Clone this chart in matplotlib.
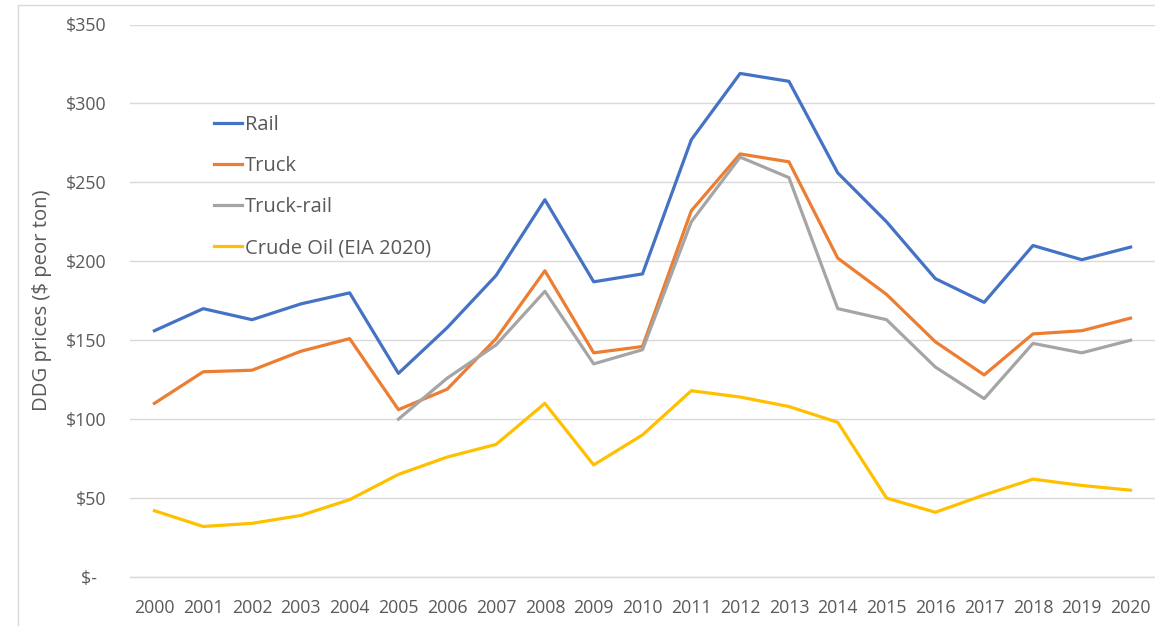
import matplotlib.pyplot as plt
from matplotlib.patches import Rectangle

years = list(range(2000, 2021))

rail = [156, 170, 163, 173, 180, 129, 158, 191, 239, 187, 192,
        277, 319, 314, 256, 225, 189, 174, 210, 201, 209]
truck = [110, 130, 131, 143, 151, 106, 119, 151, 194, 142, 146,
         232, 268, 263, 202, 179, 149, 128, 154, 156, 164]
truck_rail_years = list(range(2005, 2021))
truck_rail = [100, 126, 147, 181, 135, 144, 225, 266, 253, 170,
              163, 133, 113, 148, 142, 150]
crude = [42, 32, 34, 39, 49, 65, 76, 84, 110, 71, 90,
         118, 114, 108, 98, 50, 41, 52, 62, 58, 55]

labels = ['Rail', 'Truck', 'Truck-rail', 'Crude Oil (EIA 2020)']
colors = ['#4472C4', '#ED7D31', '#A5A5A5', '#FFC000']
yticks = [0, 50, 100, 150, 200, 250, 300, 350]

txt = '#595959'
plt.rcParams['font.family'] = ['Open Sans', 'DejaVu Sans']

W, H = 1155, 626
fig = plt.figure(figsize=(W / 100, H / 100), dpi=100)
ax = fig.add_axes([130 / W, 1 - 577 / H, (1155 - 130) / W, (577 - 24.5) / H])

# chart border
fig.patches.append(Rectangle((18 / W, -0.1), 1.2, 1 - 5 / H + 0.1,
                             transform=fig.transFigure, fill=False,
                             edgecolor='#D9D9D9', lw=1))

ax.plot(years, rail, color=colors[0], lw=2.3, label=labels[0])
ax.plot(years, truck, color=colors[1], lw=2.3, label=labels[1])
ax.plot(truck_rail_years, truck_rail, color=colors[2], lw=2.3, label=labels[2])
ax.plot(years, crude, color=colors[3], lw=2.3, label=labels[3])

ax.set_xlim(1999.5, 2020.5)
ax.set_ylim(0, 350)
ax.set_xticks(years)
ax.set_xticklabels([str(y) for y in years])
ax.set_yticks(yticks)
ax.set_yticklabels(['$' + str(v) if v else '$-  ' for v in yticks])
ax.grid(axis='y', color='#D9D9D9', lw=1)
ax.axhline(0, color='#D9D9D9', lw=1, clip_on=False, zorder=0.5)
ax.set_axisbelow(True)
for s in ax.spines.values():
    s.set_visible(False)
ax.tick_params(length=0, colors=txt, labelsize=12.8)
ax.tick_params(axis='y', pad=17)
ax.tick_params(axis='x', pad=16)

fig.text(42 / W, 1 - 300 / H, 'DDG prices ($ peor ton)', rotation=90,
         ha='center', va='center', color=txt, fontsize=14.6)

leg = ax.legend(loc='upper left', bbox_to_anchor=(214 / W, 1 - 115 / H),
                bbox_transform=fig.transFigure, frameon=False,
                fontsize=14.5, handlelength=1.4, handletextpad=0.12,
                labelspacing=1.05, borderpad=0, borderaxespad=0)
for t in leg.get_texts():
    t.set_color(txt)

fig.savefig('out.png', dpi=100)
